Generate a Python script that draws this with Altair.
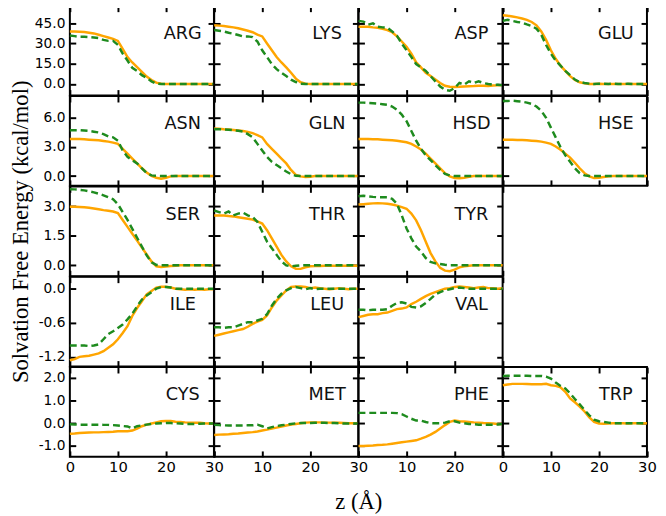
import altair as alt
import pandas as pd

Z = list(range(31))
Z0 = [0] * 11

ORANGE = {
    "ARG": [39, 39, 38.8, 38.5, 38, 37.5, 36.5, 35.5, 34.5, 33.5, 32, 26, 20, 16, 12.5, 9, 5.5, 3, 1, 0.2] + Z0,
    "LYS": [43.5, 43.3, 43, 42.5, 42, 41.3, 40.4, 39.5, 38.4, 36.6, 35.3, 30, 25, 20, 16, 12.3, 8.4, 4, 1.3, 0.3] + Z0,
    "ASP": [42.5, 42.5, 42.5, 42, 41.7, 41, 40, 38.4, 35.3, 31.5, 27.6, 22.5, 16, 12.3, 8.4, 5.9, 3.3, 0.8, -1.3, -2,
            -2.2, -2, -1.8, -1.6, -1.5, -1.3, -1.2, -1.4, -1.1, -1.0, -0.8],
    "GLU": [51, 50.6, 50, 49.4, 48.6, 47.6, 46, 43.5, 39, 32.7, 25, 18.7, 13.6, 9.7, 5.9, 3, 1.3, 0.5, 0, 0,
            0.2, 0, 0, 0, 0, 0, 0, 0, 0, 0, 0],
    "ASN": [3.8, 3.8, 3.8, 3.77, 3.73, 3.7, 3.67, 3.6, 3.53, 3.43, 3.3, 2.8, 2.3, 1.8, 1.3, 0.8, 0.37, 0.03, -0.17, -0.27,
            -0.17, -0.03, 0, 0, 0, 0, 0, 0, 0, 0, 0],
    "GLN": [4.87, 4.85, 4.8, 4.77, 4.73, 4.68, 4.63, 4.53, 4.4, 4.2, 3.97, 3.3, 2.8, 2.3, 1.8, 1.3, 0.63, 0.13, -0.03, -0.1,
            -0.07, 0, 0, 0, 0, 0, 0, 0, 0, 0, 0],
    "HSD": [3.8, 3.8, 3.8, 3.78, 3.77, 3.73, 3.7, 3.67, 3.63, 3.55, 3.47, 3.3, 3.03, 2.73, 2.3, 1.8, 1.3, 0.8, 0.3, -0.03,
            -0.2, -0.23, -0.17, -0.07, 0, 0, 0, 0, 0, 0, 0],
    "HSE": [3.73, 3.73, 3.73, 3.7, 3.7, 3.67, 3.63, 3.6, 3.53, 3.43, 3.3, 3.03, 2.7, 2.3, 1.9, 1.37, 0.8, 0.3, -0.03, -0.2,
            -0.17, -0.1, -0.03, 0, 0, 0, 0, 0, 0, 0, 0],
    "SER": [2.97, 2.97, 2.96, 2.94, 2.92, 2.88, 2.84, 2.8, 2.77, 2.73, 2.65, 2.3, 1.95, 1.6, 1.25, 0.9, 0.55, 0.2, -0.05, -0.08,
            -0.06, -0.03, -0.02, 0, 0, 0, 0, 0, 0, 0, 0],
    "THR": [2.53, 2.53, 2.53, 2.5, 2.48, 2.44, 2.4, 2.36, 2.32, 2.23, 2.12, 1.78, 1.37, 0.95, 0.53, 0.2, -0.05, -0.17, -0.18, -0.1,
            -0.05, -0.04, -0.03, -0.02, -0.02, -0.02, -0.02, -0.02, -0.02, -0.02, -0.02],
    "TYR": [3.08, 3.1, 3.12, 3.14, 3.15, 3.14, 3.12, 3.08, 3.03, 2.95, 2.87, 2.62, 2.28, 1.78, 1.2, 0.62, 0.2, -0.13, -0.27, -0.3,
            -0.22, -0.1, -0.05, -0.02, 0, 0, 0, 0, 0, 0, 0],
    "ILE": [-1.26, -1.24, -1.2, -1.19, -1.18, -1.16, -1.14, -1.1, -1.04, -0.98, -0.89, -0.78, -0.66, -0.48, -0.34, -0.22, -0.1, -0.04, 0.02, 0.035,
            0.035, 0.02, 0, -0.01, -0.02, -0.01, -0.02, -0.01, -0.02, -0.01, -0.01],
    "LEU": [-0.83, -0.81, -0.79, -0.77, -0.75, -0.73, -0.71, -0.67, -0.62, -0.58, -0.55, -0.47, -0.33, -0.21, -0.12, -0.03, 0.03, 0.04, 0.04, 0.03,
            0.01, 0.02, 0.01, 0, -0.01, 0, 0.01, 0, -0.01, 0, 0],
    "VAL": [-0.5, -0.48, -0.46, -0.45, -0.45, -0.43, -0.42, -0.39, -0.36, -0.35, -0.33, -0.27, -0.23, -0.18, -0.13, -0.09, -0.06, -0.03, 0, 0.01,
            0.03, 0.04, 0.03, 0.02, 0.01, 0.02, 0.03, 0.01, 0.01, 0, 0.01],
    "CYS": [-0.46, -0.45, -0.43, -0.42, -0.41, -0.4, -0.4, -0.39, -0.38, -0.37, -0.35, -0.35, -0.35, -0.32, -0.23, -0.13, -0.06, -0.01, 0.04, 0.09,
            0.1, 0.1, 0.07, 0.06, 0.04, 0.03, 0.02, 0.02, 0, -0.01, -0.01],
    "MET": [-0.52, -0.5, -0.49, -0.48, -0.46, -0.45, -0.43, -0.41, -0.39, -0.36, -0.32, -0.28, -0.23, -0.19, -0.14, -0.1, -0.06, -0.03, 0, 0.03,
            0.04, 0.04, 0.04, 0.03, 0.03, 0.02, 0.02, 0.01, 0, 0, 0],
    "PHE": [-1.0, -1.0, -0.99, -0.98, -0.96, -0.95, -0.93, -0.9, -0.87, -0.84, -0.81, -0.78, -0.75, -0.68, -0.6, -0.5, -0.38, -0.23, -0.08, 0.06,
            0.12, 0.09, 0.08, 0.06, 0.04, 0.03, 0.01, 0, -0.01, -0.03, -0.03],
    "TRP": [1.68, 1.71, 1.74, 1.74, 1.74, 1.73, 1.72, 1.72, 1.72, 1.74, 1.68, 1.65, 1.59, 1.39, 1.1, 0.93, 0.74, 0.52, 0.26, 0.06,
            -0.01, -0.02, -0.01, 0, 0, 0, -0.01, 0, 0, -0.01, 0],
}

GREEN = {
    "ARG": [36, 35.5, 35, 35, 34.8, 34.5, 34, 32.7, 32, 32, 29, 22.5, 17.4, 12, 9.7, 6.6, 4.6, 2, 0.3, 0] + Z0,
    "LYS": [40, 39.5, 39, 38, 37.3, 36.3, 35.3, 35.3, 34.8, 31.5, 25, 20, 14.8, 11, 8.4, 5.9, 3.3, 1.5, 0.3, 0] + Z0,
    "ASP": [46.8, 46.3, 44, 45, 42.5, 42, 41.7, 39, 35.8, 30, 25, 20, 14.8, 12.3, 9.7, 5.9, 2, -1.8, -4.3, -5,
            -3, 0.8, -0.5, 2, 0.8, 2, 0.8, 0, -0.5, -0.5, -1],
    "GLU": [46.8, 47.6, 46.8, 46, 45.5, 44.2, 43, 41, 36.6, 28.9, 22.5, 17.4, 13.6, 9.7, 6.6, 3.3, 1.5, 0.8, 0.3, 0,
            0.3, 0.2, 0, 0.3, 0, 0, 0.2, 0, 0, 0, 0],
    "ASN": [4.7, 4.7, 4.7, 4.67, 4.63, 4.55, 4.47, 4.3, 4.07, 3.97, 3.63, 2.63, 1.97, 1.63, 1.3, 0.8, 0.3, 0.07, 0.03, 0] + Z0,
    "GLN": [4.8, 4.8, 4.78, 4.75, 4.7, 4.65, 4.57, 4.3, 3.97, 3.3, 2.63, 1.97, 1.47, 1.13, 0.8, 0.47, 0.2, 0.03, 0, 0] + Z0,
    "HSD": [7.53, 7.53, 7.5, 7.47, 7.43, 7.37, 7.3, 7.13, 6.8, 6.3, 5.63, 4.63, 3.63, 2.8, 2.13, 1.63, 1.13, 0.63, 0.23, 0.07] + Z0,
    "HSE": [7.7, 7.7, 7.73, 7.68, 7.63, 7.53, 7.4, 7.13, 6.7, 5.97, 4.97, 3.97, 2.97, 2.13, 1.47, 0.8, 0.3, 0.07, 0, 0] + Z0,
    "SER": [3.86, 3.85, 3.83, 3.8, 3.75, 3.7, 3.63, 3.55, 3.45, 3.35, 3.1, 2.7, 2.3, 1.85, 1.4, 0.95, 0.5, 0.15, 0.02, 0] + Z0,
    "THR": [2.78, 2.7, 2.62, 2.73, 2.53, 2.62, 2.67, 2.53, 2.45, 2.2, 1.7, 1.2, 0.87, 0.53, 0.2, 0, -0.05, -0.02, 0, 0] + Z0,
    "TYR": [3.5, 3.53, 3.5, 3.47, 3.45, 3.45, 3.45, 3.37, 3.12, 2.53, 1.87, 1.37, 0.95, 0.7, 0.37, 0.17, 0.1, 0.07, 0.03, 0] + Z0,
    "ILE": [-1.0, -1.0, -1.0, -1.0, -1.01, -1.0, -0.98, -0.89, -0.8, -0.75, -0.69, -0.63, -0.54, -0.44, -0.31, -0.19, -0.12, -0.06, 0, 0.03,
            0.03, 0.02, 0, 0, 0, 0, 0, 0, 0, 0, 0],
    "LEU": [-0.68, -0.68, -0.69, -0.68, -0.68, -0.65, -0.62, -0.59, -0.59, -0.56, -0.53, -0.45, -0.3, -0.18, -0.09, -0.03, 0.01, 0.03, 0.01, -0.01,
            0.01, -0.01, 0, 0, 0, 0, 0, 0, 0, 0, 0],
    "VAL": [-0.37, -0.37, -0.38, -0.37, -0.37, -0.37, -0.36, -0.3, -0.25, -0.24, -0.26, -0.32, -0.33, -0.31, -0.25, -0.18, -0.1, -0.06, -0.03, -0.01,
            0.01, 0.02, 0.01, 0, 0, 0, 0, 0, 0, 0, 0],
    "CYS": [-0.04, -0.05, -0.06, -0.06, -0.06, -0.06, -0.06, -0.07, -0.07, -0.08, -0.1, -0.12, -0.14, -0.23, -0.13, -0.09, -0.06, -0.03, -0.01, 0,
            0.01, 0.01, 0, -0.01, -0.03, -0.03, -0.03, -0.02, -0.01, -0.01, -0.01],
    "MET": [-0.06, -0.08, -0.09, -0.1, -0.1, -0.1, -0.1, -0.09, -0.09, -0.06, -0.13, -0.23, -0.17, -0.12, -0.09, -0.06, -0.03, 0, 0.01, 0.01,
            0.01, 0.02, 0.03, 0.02, 0.01, 0.01, 0, -0.01, -0.01, -0.01, -0.01],
    "PHE": [0.46, 0.46, 0.46, 0.46, 0.46, 0.46, 0.46, 0.46, 0.45, 0.4, 0.3, 0.2, 0.12, 0.12, 0.06, 0.01, 0, 0, 0.03, 0.09,
            0.09, 0.03, 0, -0.03, -0.04, -0.06, -0.06, -0.06, -0.06, -0.05, -0.03],
    "TRP": [2.09, 2.1, 2.1, 2.1, 2.1, 2.1, 2.09, 2.09, 2.09, 2.06, 1.97, 1.8, 1.65, 1.54, 1.32, 1.07, 0.84, 0.59, 0.35, 0.16,
            0.09, 0.06, 0.03, 0, 0, 0, 0, 0, 0, 0, 0],
}

GRID = [
    ["ARG", "LYS", "ASP", "GLU"],
    ["ASN", "GLN", "HSD", "HSE"],
    ["SER", "THR", "TYR", ""],
    ["ILE", "LEU", "VAL", ""],
    ["CYS", "MET", "PHE", "TRP"],
]
Y_DOMAINS = [[-8.5, 58], [-1.0, 8.2], [-0.55, 4.0], [-1.37, 0.21], [-1.48, 2.48]]
Y_TICKS = [[0, 15, 30, 45], [0, 3, 6], [0, 1.5, 3], [-1.2, -0.6, 0], [-1, 0, 1, 2]]
X_TICKS = [0, 10, 20, 30]
X_LABEL_EXPR = [
    "datum.label",
    "datum.value == 0 ? '' : datum.label",
    "(datum.value == 0 || datum.value == 30) ? '' : datum.label",
    "datum.label",
]

W = 146.75
H = 91.4
TICK = 6
ORANGE_C = "#FFA500"
GREEN_C = "#1E8B1E"
SANS = "DejaVu Sans"
SERIF = "Liberation Serif"


def panel(name, r, c):
    xs = alt.Scale(domain=[0, 30], nice=False, zero=False)
    ys = alt.Scale(domain=Y_DOMAINS[r], nice=False, zero=False)
    common = dict(tickSize=TICK, offset=-TICK, domain=False, grid=False, tickColor="black", tickWidth=2)

    bottom_kw = dict(orient="bottom", values=X_TICKS, labels=(r == 4), labelExpr=X_LABEL_EXPR[c],
                     labelFont=SANS, labelFontSize=15, labelColor="black", labelPadding=3,
                     labelFlush=False, labelOverlap=False, title="", **common)
    if r == 4 and c == 1:
        bottom_kw.update(title="z (Å)", titleFont=SERIF, titleFontSize=23, titleFontWeight="normal",
                         titleColor="black", titleX=W, titleY=59, titleBaseline="alphabetic", titleAlign="center")
    left_kw = dict(orient="left", values=Y_TICKS[r], labels=(c == 0),
                   labelExpr="replace(format(datum.value, '.1f'), '\u2212', '-')",
                   labelFont=SANS, labelFontSize=14, labelColor="black", labelPadding=5,
                   labelFlush=False, labelOverlap=False, title="", **common)
    if r == 2 and c == 0:
        left_kw.update(title="Solvation Free Energy (kcal/mol)", titleFont=SERIF, titleFontSize=23,
                       titleFontWeight="normal", titleColor="black", titleX=-56, titleBaseline="middle")
    top_axis = alt.Axis(orient="top", values=X_TICKS, labels=False, title="", **common)
    right_axis = alt.Axis(orient="right", values=Y_TICKS[r], labels=False, title="", **common)

    d_o = pd.DataFrame({"z": Z, "fe": ORANGE[name]})
    d_g = pd.DataFrame({"z": Z, "fe": GREEN[name]})

    orange = alt.Chart(d_o).mark_line(color=ORANGE_C, strokeWidth=2.5).encode(
        x=alt.X("z:Q", scale=xs, axis=alt.Axis(**bottom_kw)),
        y=alt.Y("fe:Q", scale=ys, axis=alt.Axis(**left_kw)),
    )
    green = alt.Chart(d_g).mark_line(color=GREEN_C, strokeWidth=2.5, strokeDash=[7, 4]).encode(
        x=alt.X("z:Q", scale=xs, axis=top_axis),
        y=alt.Y("fe:Q", scale=ys, axis=right_axis),
    )
    label = alt.Chart(pd.DataFrame({"name": [name]})).mark_text(
        font=SANS, fontSize=18, color="#111111", align="center", baseline="alphabetic"
    ).encode(text="name:N", x=alt.value(115), y=alt.value(34))

    return alt.layer(orange, green, label).resolve_axis(x="independent", y="independent").properties(
        width=W, height=H
    )


def empty():
    return alt.Chart(pd.DataFrame({"z": [0], "fe": [0]})).mark_point(opacity=0).encode(
        x=alt.X("z:Q", axis=None), y=alt.Y("fe:Q", axis=None)
    ).properties(width=W, height=H, view=alt.ViewBackground(strokeOpacity=0))


cells = []
for r, row in enumerate(GRID):
    for c, name in enumerate(row):
        cells.append(panel(name, r, c) if name else empty())

chart = alt.concat(*cells, columns=4, spacing=0, bounds="flush").properties(
    padding={"top": -9, "left": 0, "right": 0, "bottom": 0}
).configure(
    background="white",
    view=alt.ViewConfig(stroke="black", strokeWidth=2),
)

chart.save("out.html", embed_options={"renderer": "svg", "actions": False})
